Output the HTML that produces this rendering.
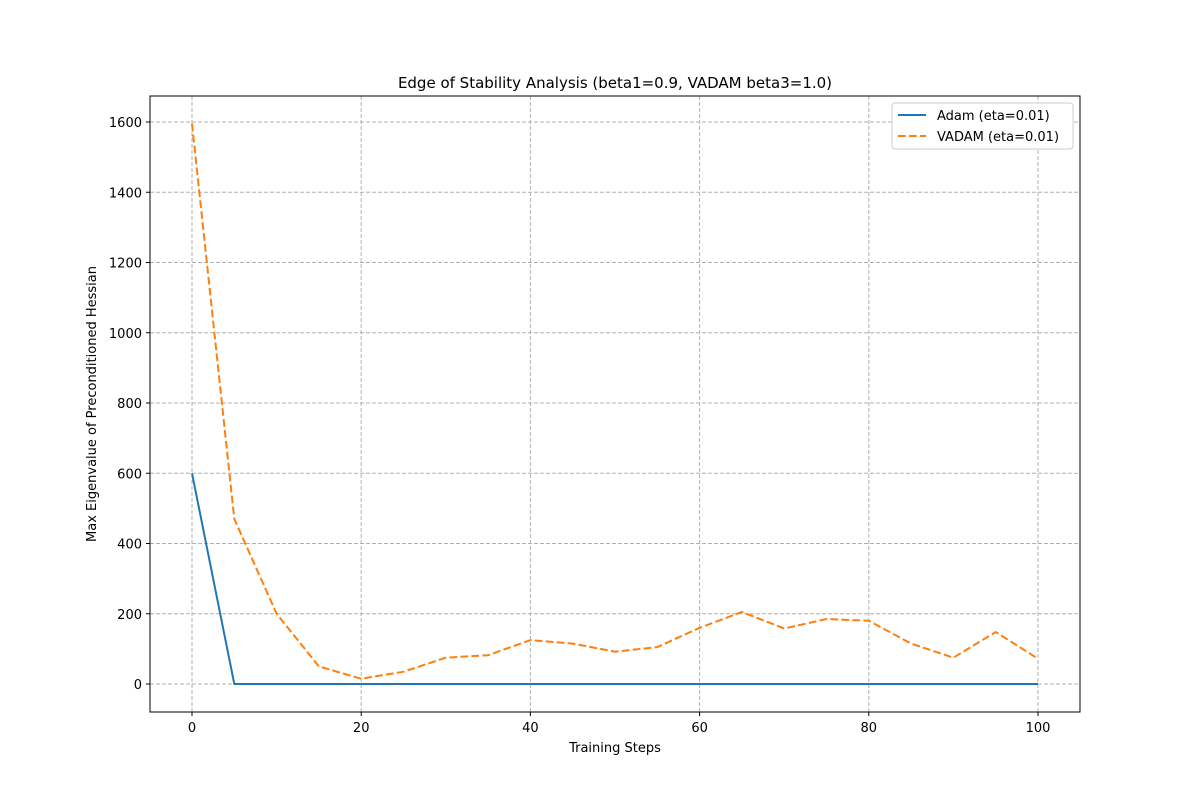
<!DOCTYPE html>
<html><head><meta charset="utf-8"><style>
body{margin:0;background:#fff;font-family:"Liberation Sans","DejaVu Sans",sans-serif}
text{font-family:"DejaVu Sans","Liberation Sans",sans-serif}
</style></head><body>
<svg id="chart" width="1200" height="800" xmlns="http://www.w3.org/2000/svg">
<rect width="1200" height="800" fill="#fff"/>
<text x="615" y="88" font-size="15" text-anchor="middle">Edge of Stability Analysis (beta1=0.9, VADAM beta3=1.0)</text>
<g id="grid"></g><g id="series"></g><g id="axes"></g>
<rect x="150" y="96" width="930" height="616" fill="none" stroke="#000" stroke-width="1"/>
<text x="615" y="752" font-size="13" text-anchor="middle">Training Steps</text>
<text transform="translate(96,404) rotate(-90)" font-size="13" text-anchor="middle">Max Eigenvalue of Preconditioned Hessian</text>
<g>
<rect x="892" y="103" width="181" height="46" fill="#fff" stroke="#ccc" rx="3"/>
<line x1="898" y1="115" x2="926" y2="115" stroke="#1f77b4" stroke-width="2"/>
<text x="937" y="120" font-size="13">Adam (eta=0.01)</text>
<line x1="898" y1="136" x2="926" y2="136" stroke="#ff7f0e" stroke-width="2" stroke-dasharray="7.7,3.3"/>
<text x="937" y="141" font-size="13">VADAM (eta=0.01)</text>
</g>
</svg>
<script>
const steps=[0,5,10,15,20,25,30,35,40,45,50,55,60,65,70,75,80,85,90,95,100];
const adam=[600,0,0,0,0,0,0,0,0,0,0,0,0,0,0,0,0,0,0,0,0];
const vadam=[1595,470,200,50,15,35,75,82,125,115,92,105,160,205,158,185,180,115,75,148,72];
const xTicks=[0,20,40,60,80,100];
const yTicks=[0,200,400,600,800,1000,1200,1400,1600];
const NS="http://www.w3.org/2000/svg";
const xs=v=>192+v*8.46;
const ys=v=>684-v*0.35125;
function mk(t,a,p){const e=document.createElementNS(NS,t);for(const k in a)e.setAttribute(k,a[k]);p.appendChild(e);return e;}
const grid=document.getElementById('grid'),axes=document.getElementById('axes'),ser=document.getElementById('series');
xTicks.forEach(v=>{
 const g=mk('line',{x1:xs(v),x2:xs(v),y1:96,y2:712,stroke:'#b0b0b0','stroke-dasharray':'4,2','stroke-width':1},grid);
 
 
 mk('line',{x1:xs(v),x2:xs(v),y1:712,y2:716,stroke:'#000'},axes);
 const t=mk('text',{x:xs(v),y:732,'font-size':13,'text-anchor':'middle'},axes);t.textContent=v;
 
 
});
yTicks.forEach(v=>{
 const g=mk('line',{x1:150,x2:1080,y1:ys(v),y2:ys(v),stroke:'#b0b0b0','stroke-dasharray':'4,2','stroke-width':1},grid);
 
 
 mk('line',{x1:146,x2:150,y1:ys(v),y2:ys(v),stroke:'#000'},axes);
 const t=mk('text',{x:142,y:ys(v)+5,'font-size':13,'text-anchor':'end'},axes);t.textContent=v;
 
 
});
const pa=mk('polyline',{points:steps.map((s,i)=>xs(s)+','+ys(adam[i])).join(' '),fill:'none',stroke:'#1f77b4','stroke-width':2},ser);


const pv=mk('polyline',{points:steps.map((s,i)=>xs(s)+','+ys(vadam[i])).join(' '),fill:'none',stroke:'#ff7f0e','stroke-width':2,'stroke-dasharray':'7.7,3.3'},ser);


</script>
</body></html>
